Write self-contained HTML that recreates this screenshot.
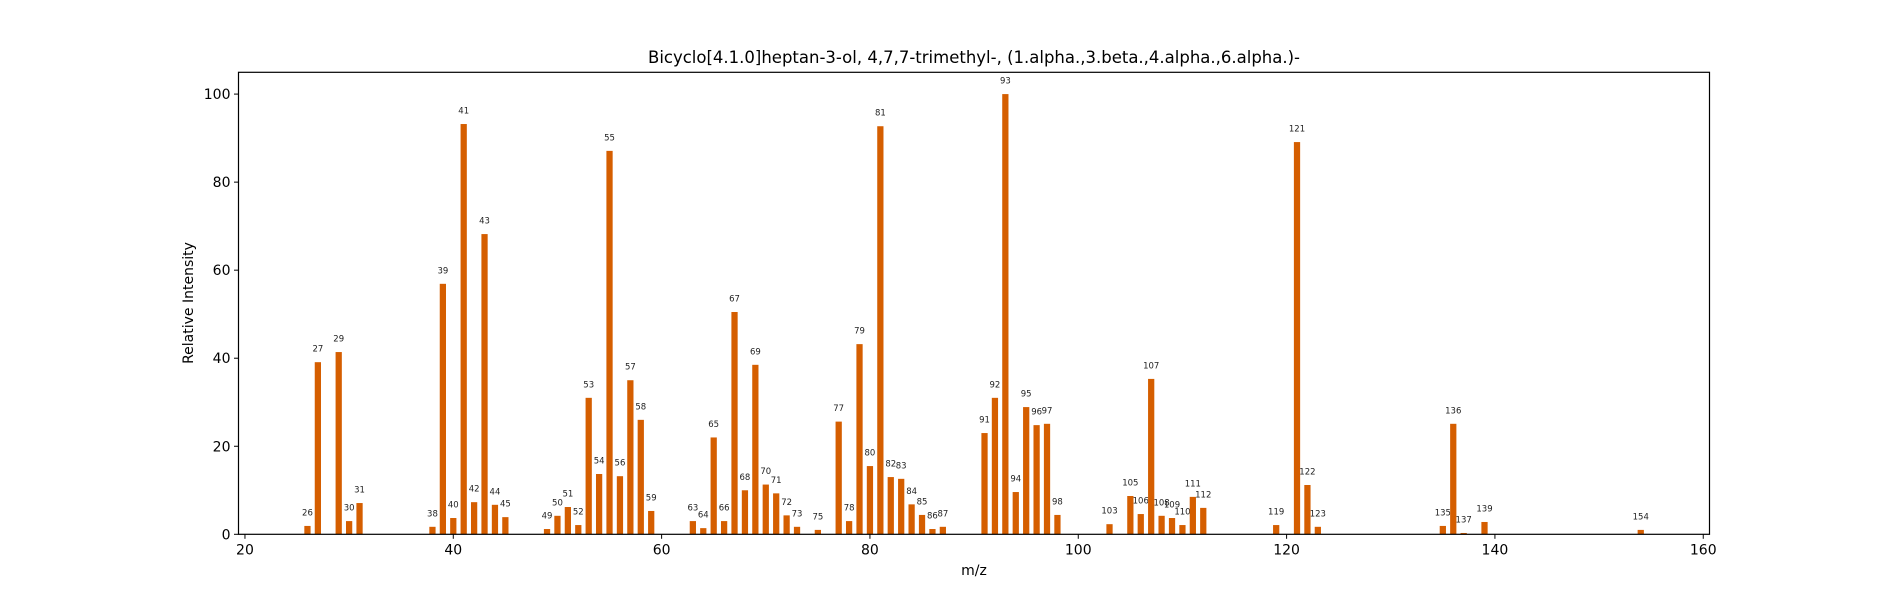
<!DOCTYPE html>
<html><head><meta charset="utf-8"><style>
body{margin:0;background:#fff;}
svg{display:block;font-family:"DejaVu Sans","Liberation Sans",sans-serif;}
</style></head><body>
<svg id="chart" width="1900" height="600" viewBox="0 0 1900 600" xmlns="http://www.w3.org/2000/svg">
<rect width="1900" height="600" fill="#fff"/>
<text x="974" y="63" font-size="16.5" text-anchor="middle">Bicyclo[4.1.0]heptan-3-ol, 4,7,7-trimethyl-, (1.alpha.,3.beta.,4.alpha.,6.alpha.)-</text>
<g id="bars"></g>
<g id="axes"></g>
<text x="974" y="575" font-size="14" text-anchor="middle">m/z</text>
<text x="0" y="0" font-size="14" text-anchor="middle" transform="translate(193,303) rotate(-90)">Relative Intensity</text>
</svg>
<script>
const mzValues = [26,27,29,30,31,38,39,40,41,42,43,44,45,49,50,51,52,53,54,55,56,57,58,59,63,64,65,66,67,68,69,70,71,72,73,75,77,78,79,80,81,82,83,84,85,86,87,91,92,93,94,95,96,97,98,103,105,106,107,108,109,110,111,112,119,121,122,123,135,136,137,139,154];
const intensities = [1.9,39.1,41.4,3.0,7.1,1.7,56.9,3.7,93.2,7.3,68.2,6.7,3.9,1.2,4.2,6.2,2.1,31.0,13.7,87.1,13.2,35.0,26.0,5.3,3.0,1.4,22.0,3.0,50.5,10.0,38.5,11.3,9.3,4.3,1.7,1.0,25.6,3.0,43.2,15.5,92.7,13.0,12.6,6.8,4.4,1.2,1.7,23.0,31.0,100,9.6,28.9,24.8,25.1,4.4,2.3,8.7,4.6,35.3,4.2,3.7,2.1,8.5,6.0,2.1,89.1,11.2,1.7,1.9,25.1,0.3,2.8,1.0];
const xTicks = [20,40,60,80,100,120,140,160];
const yTicks = [0,20,40,60,80,100];

const NS='http://www.w3.org/2000/svg';
const L=238.5,R=1709.5,T=72.3,B=534.3;
const xMin=19.38,xMax=160.6,yMin=0,yMax=104.95;
const xs=v=>L+(v-xMin)/(xMax-xMin)*(R-L);
const ys=v=>B-(v-yMin)/(yMax-yMin)*(B-T);
function mk(tag,attrs,parent){const e=document.createElementNS(NS,tag);for(const k in attrs)e.setAttribute(k,attrs[k]);parent.appendChild(e);return e;}
const bars=document.getElementById('bars'),axes=document.getElementById('axes');
const bw=0.6*(R-L)/(xMax-xMin);
mzValues.forEach((m,i)=>{
  const v=intensities[i];
  const r=mk('rect',{x:xs(m)-bw/2,y:ys(v),width:bw,height:ys(0)-ys(v),fill:'#d55e00'},bars);
  
  
  const t=mk('text',{x:xs(m),y:ys(v)-10.5,'font-size':'8.5','text-anchor':'middle',fill:'#222'},bars);
  t.textContent=String(m);
  
  
});
const frame=mk('rect',{x:L,y:T,width:R-L,height:B-T,fill:'none',stroke:'#000','stroke-width':1.2},axes);


xTicks.forEach(v=>{
  const x=xs(v);
  mk('line',{x1:x,x2:x,y1:B,y2:B+4.5,stroke:'#000','stroke-width':1},axes);
  const t=mk('text',{x:x,y:B+20,'font-size':'14','text-anchor':'middle'},axes);
  t.textContent=v;
  
  
});
yTicks.forEach(v=>{
  const y=ys(v);
  mk('line',{x1:L-4.5,x2:L,y1:y,y2:y,stroke:'#000','stroke-width':1},axes);
  const t=mk('text',{x:L-8,y:y+5,'font-size':'14','text-anchor':'end'},axes);
  t.textContent=v;
  
  
});
</script>
</body></html>
